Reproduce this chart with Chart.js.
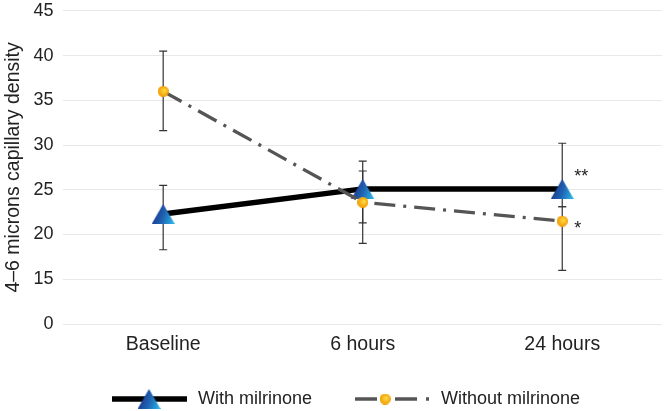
<!DOCTYPE html>
<html>
<head>
<meta charset="utf-8">
<script src="https://cdn.jsdelivr.net/npm/chart.js@4/dist/chart.umd.min.js"></script>
<style>
  html, body { margin: 0; padding: 0; background: #fff; }
</style>
</head>
<body>
<canvas id="densityChart" width="666" height="411"></canvas>
<script>
const timepoints = ['Baseline', '6 hours', '24 hours'];

const withMilrinone = [22.3, 25.1, 25.1];
const withLow = [18.3, 21.3, 23.1];
const withHigh = [25.5, 27.1, 30.2];
const withMarks = ['', '', '**'];

const withoutMilrinone = [36.0, 23.6, 21.5];
const withoutLow = [31.6, 19.0, 16.0];
const withoutHigh = [40.5, 28.2, 23.1];
const withoutMarks = ['', '', '*'];

// axis is broken: the lowest gridline (value 10) is labelled 0
const yTickLabels = ['0', '15', '20', '25', '30', '35', '40', '45'];

const FONT = '"Liberation Sans", Arial, Helvetica, sans-serif';
Chart.defaults.font.family = FONT;
Chart.defaults.font.size = 18;
Chart.defaults.color = '#222';

function makeTriangle(w, h) {
    const c = document.createElement('canvas');
    c.width = w; c.height = h;
    const g = c.getContext('2d');
    const grad = g.createLinearGradient(0, h * 0.3, w, h * 0.7);
    grad.addColorStop(0, '#1a2a80');
    grad.addColorStop(0.55, '#1f64b4');
    grad.addColorStop(1, '#2bb0e4');
    g.fillStyle = grad;
    g.beginPath();
    g.moveTo(w / 2, 0);
    g.lineTo(w, h);
    g.lineTo(0, h);
    g.closePath();
    g.fill();
    return c;
}

function makeDot(d) {
    const c = document.createElement('canvas');
    c.width = d; c.height = d;
    const g = c.getContext('2d');
    const grad = g.createRadialGradient(d * 0.65, d * 0.4, 0, d / 2, d / 2, d / 2);
    grad.addColorStop(0, '#ffe04a');
    grad.addColorStop(1, '#f29a00');
    g.fillStyle = grad;
    g.beginPath();
    g.arc(d / 2, d / 2, d / 2, 0, Math.PI * 2);
    g.fill();
    return c;
}

const triangle = makeTriangle(23, 20);
const dot = makeDot(11);

const errorBars = {
    id: 'errorBars',
    beforeDatasetsDraw(chart) {
        const ctx = chart.ctx;
        const y = chart.scales.y;
        ctx.save();
        ctx.strokeStyle = '#333';
        ctx.lineWidth = 1.2;
        chart.data.datasets.forEach((ds, i) => {
            const meta = chart.getDatasetMeta(i);
            meta.data.forEach((pt, j) => {
                const top = y.getPixelForValue(ds.errHigh[j]);
                const bot = y.getPixelForValue(ds.errLow[j]);
                ctx.beginPath();
                ctx.moveTo(pt.x, top); ctx.lineTo(pt.x, bot);
                ctx.moveTo(pt.x - 4, top); ctx.lineTo(pt.x + 4, top);
                ctx.moveTo(pt.x - 4, bot); ctx.lineTo(pt.x + 4, bot);
                ctx.stroke();
            });
        });
        ctx.restore();
    },
    afterDatasetsDraw(chart) {
        const ctx = chart.ctx;
        ctx.save();
        ctx.fillStyle = '#222';
        ctx.font = '18px ' + FONT;
        ctx.textBaseline = 'middle';
        chart.data.datasets.forEach((ds, i) => {
            const meta = chart.getDatasetMeta(i);
            meta.data.forEach((pt, j) => {
                if (!ds.marks[j]) return;
                const dy = ds.marks[j] === '**' ? -12 : 7.5;
                ctx.fillText(ds.marks[j], pt.x + 12, pt.y + dy);
            });
        });
        ctx.restore();
    }
};

const lineLegend = {
    id: 'lineLegend',
    afterDraw(chart) {
        const ctx = chart.ctx;
        const y = 399;
        let x = 112;
        ctx.save();
        ctx.font = '18px ' + FONT;
        ctx.textBaseline = 'middle';
        chart.data.datasets.forEach((ds, i) => {
            ctx.strokeStyle = ds.borderColor;
            ctx.lineWidth = ds.borderWidth;
            ctx.setLineDash(i === 0 ? [] : [22, 18, 22, 9, 3, 100]);
            ctx.beginPath();
            ctx.moveTo(x, y);
            ctx.lineTo(x + 75, y);
            ctx.stroke();
            ctx.setLineDash([]);
            const img = ds.pointStyle;
            const cx = i === 0 ? x + 37 : x + 30;
            ctx.drawImage(img, cx - img.width / 2, y - img.height / 2);
            ctx.fillStyle = '#222';
            ctx.fillText(ds.label, x + 86, y);
            x += 86 + ctx.measureText(ds.label).width + 43;
        });
        ctx.restore();
    }
};

new Chart(document.getElementById('densityChart'), {
    type: 'line',
    data: {
        labels: timepoints,
        datasets: [
            {
                label: 'With milrinone',
                data: withMilrinone,
                errLow: withLow,
                errHigh: withHigh,
                marks: withMarks,
                borderColor: '#000',
                borderWidth: 5.5,
                pointStyle: triangle,
                pointRadius: 10,
                tension: 0,
                fill: false,
                order: 2
            },
            {
                label: 'Without milrinone',
                data: withoutMilrinone,
                errLow: withoutLow,
                errHigh: withoutHigh,
                marks: withoutMarks,
                borderColor: '#555',
                borderWidth: 3.3,
                borderDash: [21, 8, 3, 8],
                pointStyle: dot,
                pointRadius: 6,
                tension: 0,
                fill: false,
                order: 1
            }
        ]
    },
    options: {
        responsive: false,
        animation: false,
        layout: { autoPadding: false, padding: { left: 2, right: 4, top: 0, bottom: 45 } },
        plugins: {
            legend: { display: false },
            tooltip: { enabled: false }
        },
        scales: {
            x: {
                offset: true,
                grid: { display: false, drawTicks: false },
                border: { display: false },
                ticks: { padding: 9.3, color: '#222', font: { size: 19.5 } }
            },
            y: {
                min: 10,
                max: 45,
                ticks: {
                    stepSize: 5,
                    padding: 0,
                    color: '#222',
                    callback: (v, i) => yTickLabels[i]
                },
                grid: {
                    color: '#e8e8e8',
                    lineWidth: 1,
                    drawTicks: true,
                    tickLength: 10,
                    tickColor: 'rgba(0,0,0,0)'
                },
                border: { display: false },
                title: {
                    display: true,
                    text: '4–6 microns capillary density',
                    color: '#222',
                    padding: { top: 0, bottom: 8 },
                    font: { size: 19.5 }
                }
            }
        }
    },
    plugins: [errorBars, lineLegend]
});
</script>
</body>
</html>
